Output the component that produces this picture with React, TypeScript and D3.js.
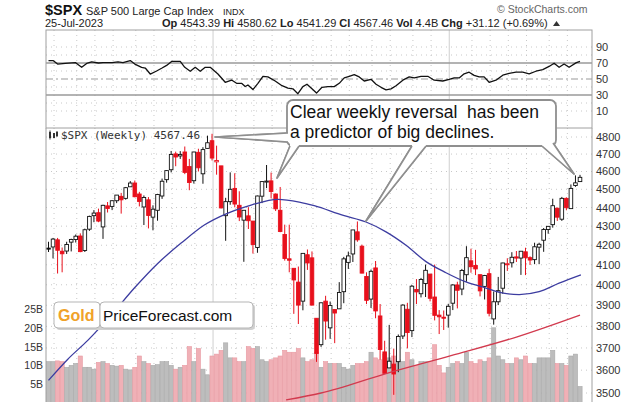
import React from 'react';
import * as d3 from 'd3';

// Weekly candles, week of 26-Apr-2021 .. week of 24-Jul-2023
const prevClose0 = 4180;
const opens = [4185,4191,4228,4169,4170,4216,4230,4248,4173,4284,4356,4372,4296,4409,4406,4437,4461,4450,4514,4535,4474,4403,4442,4348,4385,4463,4554,4610,4701,4689,4712,4628,4548,4710,4587,4733,
4778,4655,4632,4356,4432,4505,4412,4332,4355,4327,4188,4462,4541,4547,4474,4385,4256,4130,4082,4013,3920,4151,4135,3838,3715,3920,3793,3880,3883,3966,4112,4155,4270,4195,4041,3930,4084,3849,3682,3610,3627,3638,3755,3881,3780,3977,3956,4006,4053,3940,3853,3843,
3853,3910,3999,3979,4050,4120,4096,4050,3992,4055,3835,3917,3983,4103,4110,4140,4134,4166,4136,4126,4190,4226,4282,4308,4396,4337,4450,4394,4521,4543];
const highs = [4218,4238,4238,4188,4218,4234,4256,4262,4287,4356,4386,4394,4415,4430,4440,4468,4480,4513,4546,4549,4486,4466,4457,4412,4475,4560,4608,4718,4714,4717,4744,4672,4713,4731,4740,4808,
4819,4749,4632,4453,4595,4590,4489,4385,4402,4327,4465,4546,4637,4594,4477,4513,4308,4308,4082,4091,4158,4178,4168,3838,3914,3946,3918,3880,4013,4140,4167,4280,4325,4203,4062,4076,4119,3906,3733,3807,3697,3762,3905,3912,3999,4028,4034,4101,4053,4101,3877,3875,
3907,4003,4015,4079,4195,4182,4176,4051,4049,4079,3967,4039,4110,4133,4164,4170,4170,4187,4143,4213,4213,4290,4300,4448,4400,4458,4456,4527,4578,4581];
const lows = [4165,4132,4056,4062,4155,4168,4214,4164,4165,4275,4321,4321,4233,4373,4386,4424,4367,4443,4513,4456,4406,4306,4288,4278,4329,4447,4537,4595,4630,4672,4585,4495,4532,4600,4531,4733,
4663,4582,4395,4223,4415,4401,4327,4115,4285,4157,4161,4424,4507,4450,4381,4268,4121,4062,3859,3811,3876,4074,3900,3637,3705,3738,3742,3722,3883,3910,4079,4114,4218,4057,3906,3887,3838,3647,3584,3610,3492,3591,3741,3698,3750,3906,3938,3940,3919,3828,3764,3783,
3794,3877,3885,3949,4015,4060,4048,3943,3928,3847,3808,3901,3956,4069,4086,4114,4049,4048,4099,4103,4103,4166,4260,4292,4328,4328,4385,4394,4514,4541];
const closes = [4181,4232,4174,4156,4204,4230,4247,4167,4281,4352,4370,4327,4412,4395,4437,4468,4442,4509,4535,4459,4433,4455,4357,4391,4471,4545,4605,4698,4683,4698,4595,4538,4712,4621,4726,4766,
4677,4663,4398,4432,4500,4419,4349,4385,4329,4204,4463,4543,4546,4488,4393,4272,4132,4123,4024,3901,4158,4109,3901,3675,3912,3825,3899,3863,3962,4130,4145,4280,4228,4058,3924,4067,3873,3693,3586,3640,3583,3753,3901,3771,3993,3965,4026,4072,3934,3852,3845,3840,
3895,3999,3973,4071,4136,4090,4079,3970,4046,3862,3917,3971,4109,4105,4138,4134,4169,4136,4124,4192,4205,4282,4299,4410,4348,4450,4399,4505,4536,4567];
// Weekly volume, billions
const volumes = [11,11,11.2,11,9.5,10,10.5,12.5,9.5,9.5,9,10.8,11,10.5,10,9.8,10,9,8.8,9.5,12.5,11,10.5,10,10.2,11,11,10,9,9.5,10,15,11,14.5,9,7.5,
12.5,13,14,16,12,12,11,11,15,14.5,15,11.5,11,11.5,12,12.5,14,13.5,13.5,14.5,12,11,11.5,13.5,9.5,11,10.5,10.5,10.5,9.5,9,10,10.5,10.5,11,13.5,12,11.5,13,12,12.5,11.5,11,13.5,11.5,10,11,11,11,15.5,10,8,
9.5,10.5,11,10.5,13.5,11,10.5,11.5,11,12,20,12.5,11.5,10.5,10.5,12,11.5,12.5,10.5,10.5,12,12,12,14,10.5,10.5,10,12.5,13,4.4];

// RSI(14): position (week index) and value
const rsiIdx = [0,1,2,3.7,5.9,7.3,8.4,9.5,11,12,14,15.3,16.4,18,19,20.5,21.3,22.4,23.8,25,26,27.1,29,30,31.2,32.3,33.4,34.5,35.6,37.3,38.9,40.3,41.4,42.5,43.3,43.9,45,46.1,47.2,48.3,49.9,51.4,52.7,53.8,54.9,56,56.9,58,59,60.2,61.5,62.9,64,65.1,66.2,67.3,68.4,69.5,71,72.1,73.2,74.3,75.4,76.5,78,79.4,80.5,82,83.5,84.9,86.8,88.2,89.3,90.4,91.5,92.6,93.7,94.8,95.9,97,98.5,100,101.4,102.9,104.4,105.8,107.3,108.8,110.2,111.3,112.4,113.5,114.6,116.2,117];
const rsiVal = [72.9,73,68.7,69.5,70.5,64.6,69.5,71.5,70,70.5,70.5,71.5,70.5,73,68.7,64.6,63.7,56.2,60,63.7,67,72,72,64.6,59.7,64.6,59.7,64.6,64.6,56.2,45.9,48.7,44.6,44.6,40.6,42.5,36.8,44.6,53.4,52.6,47.5,41.6,38.5,37.7,31.6,40.5,43.5,37.7,32.4,39.6,40.5,40.5,44.6,51.4,53.4,55.4,52.6,47.5,49.6,43.5,39.6,36.5,37.7,41.6,48.5,52.6,51.4,53.4,53.4,48.5,47.5,49.6,51.4,51.4,56.5,58.5,54.5,52.6,52.6,45.9,48.5,54.8,57,58.5,58.5,56.5,59.7,61.7,65.7,69.7,64.6,68.7,64.6,70.5,72];

// Moving averages
const maBlueIdx = [0,4.2,8.7,13.8,18.9,24.1,29.2,34.3,39.5,44.6,50.5,55.2,58.5,64.9,69.9,74.3,78.7,83.1,87.5,91.9,96.3,100.1,103.6,108,112.4,117.2];
const maBlueVal = [3555,3648,3736,3853,3984,4108,4211,4306,4370,4413,4445,4430,4410,4357,4322,4270,4200,4116,4060,4014,3984,3959,3952,3966,4008,4049];
const maRedIdx = [52.3,60,74.3,88.6,103,117];
const maRedVal = [3470,3500,3585,3665,3750,3853];

const priceTicks = [4800,4700,4600,4500,4400,4300,4200,4100,4000,3900,3800,3700,3600,3500];
const rsiTicks = [90,70,50,30,10];
const volTicks = [25,20,15,10,5];
const startY = 2021, startM = 3, startD = 26;

const SANS = '"Liberation Sans", Arial, sans-serif';
const MONO = '"DejaVu Sans Mono", monospace';

export default function App() {
  const L = 46, R = 592;
  const rsiTop = 30, rsiBot = 128, pTop = 128, pBot = 402;
  const n = closes.length;
  const x = d3.scaleLinear().domain([0, n - 1]).range([48.5, 580]);
  const yP = d3.scaleLog().domain([3500, 4800]).range([393, 137]);
  const yV = d3.scaleLinear().domain([0, 25]).range([403, 309]);
  const yR = d3.scaleLinear().domain([30, 70]).range([95, 63]);

  const dates = d3.range(n).map(i => new Date(startY, startM, startD + 7 * i));
  const monthIdx = d3.range(1, n).filter(i => dates[i].getMonth() !== dates[i - 1].getMonth());
  const yearIdx = monthIdx.filter(i => dates[i].getMonth() === 0);

  const rsiLine = d3.line<number>().x((_, i) => x(rsiIdx[i])).y(d => yR(d))(rsiVal) || '';
  const maLine = (idx: number[], val: number[]) =>
    d3.line<number>().x((_, i) => x(idx[i])).y(d => yP(d)).curve(d3.curveMonotoneX)(val) || '';

  const gridDot = { stroke: '#c8c8c8', strokeWidth: 1, strokeDasharray: '1,4' };

  const wedges = [
    { b1: [288, 133], b2: [288, 142], t: [215, 137], dir: [1, 0] },
    { b1: [290, 146], b2: [299, 146], t: [277, 178], dir: [0, -1] },
    { b1: [412, 146], b2: [426, 146], t: [366, 221], dir: [0, -1] },
    { b1: [542, 146], b2: [553, 143], t: [574, 174], dir: [0, -1] },
  ];

  return (
    <svg width={640} height={402} style={{ position: 'fixed', left: 0, top: 0, background: '#fff' }}
      fontFamily={SANS}>
      <defs>
        <clipPath id="cp"><rect x={L} y={pTop} width={R - L} height={pBot - pTop} /></clipPath>
        <clipPath id="cr"><rect x={L} y={rsiTop} width={R - L} height={rsiBot - rsiTop} /></clipPath>
      </defs>
      <rect x={0} y={0} width={640} height={402} fill="#fff" />

      {/* Header */}
      <text x={45} y={15} fontSize={14.5} fontWeight="bold" fill="#111">$SPX</text>
      <text x={86} y={15} fontSize={11} fill="#222">S&amp;P 500 Large Cap Index</text>
      <text x={223} y={15} fontSize={9} fill="#222">INDX</text>
      <text x={497} y={13} fontSize={10.5} fill="#666">© StockCharts.com</text>
      <text x={45} y={27} fontSize={11} fill="#222">25-Jul-2023</text>
      <text x={162} y={27} fontSize={11} fill="#222" style={{ whiteSpace: 'pre' }}>
        <tspan fontWeight="bold">Op</tspan><tspan> 4543.39 </tspan>
        <tspan fontWeight="bold">Hi</tspan><tspan> 4580.62 </tspan>
        <tspan fontWeight="bold">Lo</tspan><tspan> 4541.29 </tspan>
        <tspan fontWeight="bold">Cl</tspan><tspan> 4567.46 </tspan>
        <tspan fontWeight="bold">Vol</tspan><tspan> 4.4B </tspan>
        <tspan fontWeight="bold">Chg</tspan><tspan> +31.12 (+0.69%)</tspan>
      </text>
      <path d="M553,26 L556.5,21 L560,26 Z" fill="#333" />

      {/* RSI panel */}
      <g clipPath="url(#cr)">
        {monthIdx.map(i => (
          <line key={'rm' + i} x1={x(i) + 1} x2={x(i) + 1} y1={rsiTop} y2={rsiBot}
            {...(yearIdx.includes(i) ? { stroke: '#cfcfcf', strokeWidth: 1 } : gridDot)} />
        ))}
        {[90, 80, 60, 40, 20, 10].map(v => (
          <line key={'rg' + v} x1={L} x2={R} y1={yR(v)} y2={yR(v)} {...gridDot} />
        ))}
        <line x1={L} x2={R} y1={yR(70)} y2={yR(70)} stroke="#9a9a9a" strokeWidth={1.6} />
        <line x1={L} x2={R} y1={yR(30)} y2={yR(30)} stroke="#9a9a9a" strokeWidth={1.6} />
        <line x1={L} x2={R} y1={yR(50)} y2={yR(50)} stroke="#9a9a9a" strokeWidth={1.2} strokeDasharray="7,3,2,3" />
        <path d={rsiLine} fill="none" stroke="#111" strokeWidth={1.3} strokeLinejoin="round" />
      </g>
      {rsiTicks.map(v => (
        <text key={'rt' + v} x={596} y={yR(v) + 4} fontSize={11} fill="#333">{v}</text>
      ))}

      {/* Price panel */}
      <g clipPath="url(#cp)">
        {monthIdx.map(i => (
          <line key={'pm' + i} x1={x(i) + 1} x2={x(i) + 1} y1={pTop} y2={pBot}
            {...(yearIdx.includes(i) ? { stroke: '#cfcfcf', strokeWidth: 1 } : gridDot)} />
        ))}
        {priceTicks.map(t => (
          <line key={'pg' + t} x1={L} x2={R} y1={yP(t)} y2={yP(t)} {...gridDot} />
        ))}
        {volumes.map((v, i) => {
          const prev = i === 0 ? prevClose0 : closes[i - 1];
          const up = closes[i] >= prev;
          return (
            <rect key={'v' + i} x={x(i) - 2.1} width={4.2} y={yV(v)} height={yV(0) - yV(v)}
              fill={up ? '#bdbdbd' : '#f0b0b6'} stroke={up ? '#a9a9a9' : '#e89aa2'} strokeWidth={0.6} />
          );
        })}
        {opens.map((o, i) => {
          const c = closes[i];
          const prev = i === 0 ? prevClose0 : closes[i - 1];
          const col = c >= prev ? '#111' : '#e8101c';
          const filled = c < o;
          const top = yP(Math.max(o, c));
          const bot = yP(Math.min(o, c));
          const cx = x(i);
          return (
            <g key={'c' + i}>
              <line x1={cx} x2={cx} y1={yP(highs[i])} y2={yP(lows[i])} stroke={col} strokeWidth={1} />
              <rect x={cx - 1.8} width={3.6} y={top} height={Math.max(1, bot - top)}
                fill={filled ? col : '#fff'} stroke={col} strokeWidth={0.9} />
            </g>
          );
        })}
        <path d={maLine(maBlueIdx, maBlueVal)} fill="none" stroke="#3c3ca0" strokeWidth={1.3} />
        <path d={maLine(maRedIdx, maRedVal)} fill="none" stroke="#d23a4e" strokeWidth={1.3} />
      </g>
      {priceTicks.map(t => (
        <text key={'pt' + t} x={596} y={yP(t) + 4} fontSize={11} fill="#333">{t}</text>
      ))}
      {volTicks.map(v => (
        <text key={'vt' + v} x={43} y={yV(v) + 4} fontSize={10.5} fill="#333" textAnchor="end">{v}B</text>
      ))}

      {/* panel frame */}
      <rect x={L} y={rsiTop} width={R - L} height={rsiBot - rsiTop} fill="none" stroke="#a0a0a0" strokeWidth={1} />
      <line x1={L} x2={L} y1={pTop} y2={pBot} stroke="#a0a0a0" />
      <line x1={R} x2={R} y1={pTop} y2={pBot} stroke="#a0a0a0" />

      {/* price panel legend */}
      <g fill="#333">
        <rect x={49} y={132} width={2} height={6} />
        <line x1={50} x2={50} y1={130.5} y2={139.5} stroke="#333" />
        <rect x={53} y={133} width={2} height={5} />
        <rect x={56} y={131.5} width={2} height={5} />
      </g>
      <text x={61} y={139} fontSize={11} fontFamily={MONO} fill="#333">$SPX (Weekly) 4567.46</text>

      {/* Annotation callout */}
      <g>
        {wedges.map((w, k) => (
          <polygon key={'ws' + k} points={`${w.b1.join(',')} ${w.t.join(',')} ${w.b2.join(',')}`}
            fill="#fff" stroke="#8f8f8f" strokeWidth={1.6} strokeLinejoin="round" />
        ))}
        <rect x={287} y={100} width={269} height={46} rx={6} fill="#fff" stroke="#8f8f8f" strokeWidth={1.8} />
        {wedges.map((w, k) => (
          <polygon key={'wf' + k}
            points={`${w.b1[0] + w.dir[0] * 4},${w.b1[1] + w.dir[1] * 4} ${w.b1.join(',')} ${w.t.join(',')} ${w.b2.join(',')} ${w.b2[0] + w.dir[0] * 4},${w.b2[1] + w.dir[1] * 4}`}
            fill="#fff" stroke="none" />
        ))}
        {wedges.map((w, k) => (
          <polyline key={'wl' + k} points={`${w.b1.join(',')} ${w.t.join(',')} ${w.b2.join(',')}`}
            fill="none" stroke="#8f8f8f" strokeWidth={1.6} strokeLinejoin="round" />
        ))}
        <text x={290} y={118} fontSize={17.5} fill="#111" style={{ whiteSpace: 'pre' }}>Clear weekly reversal  has been</text>
        <text x={290} y={138} fontSize={17.5} fill="#111">a predictor of big declines.</text>
      </g>

      {/* Logo */}
      <g>
        <rect x={56} y={304} width={199} height={26} rx={4} fill="#d0d0d0" />
        <rect x={54} y={302} width={46} height={26} rx={4} fill="#fff" stroke="#b5b5b5" strokeWidth={1} />
        <rect x={100} y={302} width={153} height={26} rx={4} fill="#fff" stroke="#b5b5b5" strokeWidth={1} />
        <text x={58} y={321} fontSize={16} fontWeight="bold" fill="#f0a22a">Gold</text>
        <text x={103} y={321} fontSize={15.5} fill="#111">PriceForecast.com</text>
      </g>
    </svg>
  );
}
